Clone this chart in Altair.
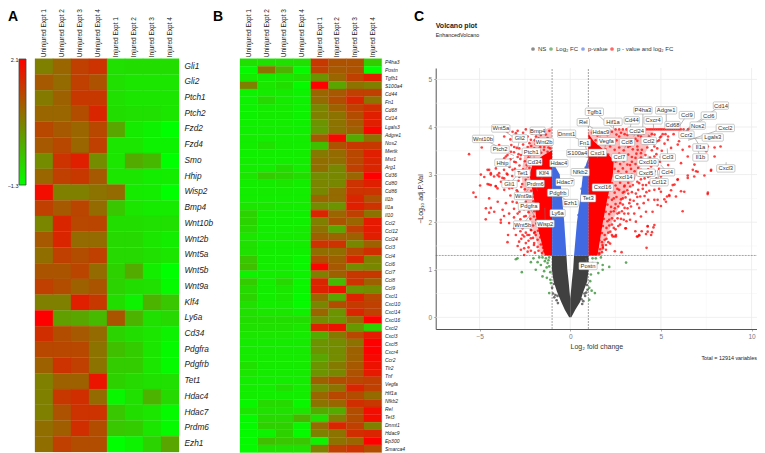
import altair as alt
import pandas as pd

FONT = "Liberation Sans"
W, H = 749, 445

# ---- Heatmap values read as position along the colour bar (0 = bottom, 1 = top)
LOW, HIGH = -1.3, 2.1
columns = ["Uninjured Expt 1", "Uninjured Expt 2", "Uninjured Expt 3", "Uninjured Expt 4",
           "Injured Expt 1", "Injured Expt 2", "Injured Expt 3", "Injured Expt 4"]
genes_a = ["Gli1", "Gli2", "Ptch1", "Ptch2", "Fzd2", "Fzd4", "Smo", "Hhip", "Wisp2", "Bmp4", "Wnt10b",
           "Wnt2b", "Wnt5a", "Wnt5b", "Wnt9a", "Klf4", "Ly6a", "Cd34", "Pdgfra", "Pdgfrb", "Tet1",
           "Hdac4", "Hdac7", "Prdm6", "Ezh1"]
heat_a = [
    [.50, .60, .75, .80, .12, .13, .13, .13], [.65, .58, .75, .68, .12, .10, .10, .10],
    [.52, .62, .78, .78, .12, .10, .10, .10], [.60, .60, .70, .85, .13, .12, .12, .10],
    [.72, .65, .60, .72, .35, .08, .05, .00], [.65, .72, .60, .75, .10, .10, .05, .05],
    [.45, .80, .88, .45, .10, .33, .28, .00], [.60, .75, .78, .65, .10, .10, .07, .07],
    [.95, .50, .50, .55, .58, .08, .07, .00], [.75, .65, .73, .58, .22, .10, .08, .08],
    [.48, .85, .72, .73, .13, .13, .12, .12], [.65, .85, .58, .58, .15, .15, .10, .07],
    [.57, .75, .70, .75, .15, .15, .12, .10], [.67, .67, .73, .58, .18, .33, .07, .00],
    [.75, .70, .62, .67, .17, .13, .12, .02], [.50, .50, .88, .78, .13, .05, .30, .22],
    [1.0, .38, .35, .27, .67, .30, .12, .15], [.82, .70, .65, .58, .17, .13, .10, .05],
    [.72, .72, .72, .55, .25, .20, .10, .02], [.62, .80, .75, .55, .20, .20, .10, .02],
    [.50, .62, .62, .92, .18, .15, .12, .12], [.50, .78, .82, .58, .03, .12, .30, .15],
    [.50, .68, .80, .80, .22, .13, .10, .02], [.57, .63, .82, .70, .22, .20, .10, .02],
    [.57, .75, .70, .70, .00, .05, .17, .35],
]
genes_b = ["P4ha3", "Postn", "Tgfb1", "S100a4", "Cd44", "Fn1", "Cd68", "Cd14", "Lgals3", "Adgre1", "Nos2",
           "Mertk", "Msr1", "Arg1", "Cd36", "Cd80", "Cd86", "Il1b", "Il1a", "Il10", "Ccl2", "Ccl12",
           "Ccl24", "Ccl3", "Ccl4", "Ccl6", "Ccl7", "Ccl8", "Ccl9", "Cxcl1", "Cxcl10", "Cxcl14", "Cxcl16",
           "Cxcl2", "Cxcl3", "Cxcl5", "Cxcr4", "Ccr2", "Tlr2", "Tnf", "Vegfa", "Hif1a", "Nfkb2", "Rel",
           "Tet3", "Dnmt1", "Hdac9", "Ep300", "Smarca4"]
heat_b = [
    [.12, .12, .12, .12, .78, .68, .68, .20], [.02, .55, .30, .02, .75, .65, .68, .00],
    [.08, .08, .10, .12, .42, .60, .75, .88], [.50, .10, .13, .02, 1.0, .35, .55, .50],
    [.05, .08, .08, .05, .60, .65, .75, .75], [.05, .15, .08, .05, .58, .70, .85, .55],
    [.05, .08, .08, .05, .48, .62, .75, .82], [.05, .08, .08, .05, .50, .55, .70, .88],
    [.06, .07, .07, .06, .42, .55, .65, .88], [.06, .07, .07, .06, .40, .55, .62, .98],
    [.07, .07, .07, .07, .65, .97, .33, .55], [.07, .12, .08, .07, .25, .68, .78, .78],
    [.06, .07, .07, .07, .52, .58, .72, .88], [.07, .07, .07, .07, .57, .57, .72, .85],
    [.07, .07, .13, .07, .57, .47, .75, .85], [.10, .20, .17, .13, .45, .47, .60, 1.0],
    [.07, .08, .10, .07, .48, .47, .80, .88], [.07, .08, .08, .07, .47, .58, .80, .80],
    [.07, .07, .07, .07, .60, .58, .85, .68], [.10, .10, .08, .07, .45, .42, .88, .80],
    [.17, .07, .07, .06, .85, .60, .75, .55], [.17, .07, .07, .06, .50, .67, .60, .90],
    [.15, .07, .07, .08, .55, .35, .75, .90], [.10, .07, .08, .08, .62, .60, .62, .88],
    [.12, .07, .07, .07, .80, .80, .47, .62], [.12, .07, .07, .06, .57, .57, .72, .82],
    [.22, .07, .07, .04, .70, .62, .85, .50], [.25, .07, .07, .04, .98, .65, .45, .47],
    [.05, .07, .08, .05, .50, .62, .78, .78], [.20, .07, .15, .04, .85, .27, .80, .62],
    [.15, .07, .10, .04, .87, .92, .42, .45], [.17, .07, .10, .02, .60, .35, .87, .72],
    [.12, .07, .08, .02, .47, .70, .77, .75], [.12, .10, .10, .06, .60, .42, .85, .75],
    [.13, .13, .13, .13, .45, .42, .58, 1.0], [.12, .12, .12, .10, .87, .93, .40, .18],
    [.10, .10, .10, .08, .33, .52, .72, .90], [.08, .08, .08, .08, .42, .45, .55, 1.0],
    [.08, .08, .08, .08, .42, .45, .62, 1.0], [.08, .08, .08, .08, .35, .45, .62, .97],
    [.12, .08, .08, .08, .42, .52, .65, .93], [.10, .08, .08, .08, .42, .47, .68, .90],
    [.07, .07, .07, .07, .62, .70, .72, .75], [.07, .07, .12, .07, .45, .55, .85, .75],
    [.07, .07, .07, .07, .60, .72, .70, .58], [.03, .15, .15, .03, .55, .60, .82, .78],
    [.10, .12, .12, .10, .33, .33, .70, .95], [.02, .15, .15, .30, .12, .50, .70, .95],
    [.02, .18, .18, .04, .58, .85, .75, .50], [.02, .05, .18, .02, .50, .55, .82, .85],
    [.02, .25, .22, .22, .05, .55, .60, 1.0], [.02, .12, .12, .12, .50, .75, .80, .70],
]

# ---- Volcano: dense bands, as boundaries (y, inner/outer log2 FC)
grey_y = [0.0, 0.16, 0.33, 0.39, 0.55, 0.76, 1.0, 1.3]
grey_left = [-0.06, -0.3, -0.5, -0.57, -0.74, -0.92, -1.01, -1.01]
grey_left_in = [0.0, 0.0, 0.0, 0.0, -0.04, -0.09, -0.16, -0.21]
grey_right = [0.06, 0.28, 0.55, 0.6, 0.73, 0.94, 1.01, 1.01]
grey_right_in = [0.0, 0.0, 0.0, 0.0, 0.04, 0.09, 0.16, 0.21]
blue_y_l = [1.3, 2.0, 2.5, 3.0, 3.15, 3.25]
blue_l_in = [-0.21, -0.33, -0.45, -0.58, -0.8, -0.97]
blue_y_r = [1.3, 2.0, 2.5, 3.0, 3.25, 3.32]
blue_r_in = [0.21, 0.37, 0.55, 0.7, 0.9, 0.98]
red_y_l = [1.3, 1.6, 2.0, 2.5, 3.0, 3.25, 3.4, 3.5]
red_l = [-1.4, -1.6, -1.85, -2.0, -2.25, -2.05, -1.5, -1.05]
red_y_r = [1.3, 2.0, 2.5, 3.0, 3.3, 3.5, 3.7, 3.85]
red_r = [1.5, 1.8, 2.05, 2.35, 2.4, 1.9, 1.3, 1.02]
pink_y_l = [1.3, 2.0, 2.5, 3.0, 3.5, 3.9, 4.0]
pink_l = [-1.6, -2.2, -2.5, -2.7, -2.5, -1.7, -1.05]
pink_y_r = [1.3, 2.0, 2.5, 3.0, 3.5, 3.9, 3.95]
pink_r = [1.7, 2.3, 2.9, 3.7, 4.2, 4.6, 2.6]

red_points = [
    (7.58, 2.59), (6.2, 2.23), (4.21, 1.46), (2.83, 1.37), (2.46, 1.39), (5.83, 2.54), (6.29, 2.64), (5.28, 2.43),
    (5.0, 2.64), (5.46, 2.57), (5.56, 2.67), (5.92, 2.89), (5.65, 2.78), (4.64, 2.47), (4.82, 2.36), (5.0, 2.34),
    (4.54, 2.22), (4.18, 2.22), (4.05, 2.4), (3.86, 2.54), (3.62, 2.6), (3.9, 2.12), (3.53, 2.18), (3.62, 2.01),
    (3.07, 1.87), (3.59, 1.81), (3.94, 1.81), (4.27, 1.92), (4.64, 1.94), (4.51, 1.79), (4.27, 1.8), (3.81, 1.72),
    (3.68, 1.7), (2.52, 1.73), (2.43, 1.7), (2.21, 1.8), (1.97, 1.52), (1.97, 1.42), (1.78, 1.52), (3.16, 2.29),
    (3.26, 2.4), (2.76, 2.4), (2.46, 2.29), (2.24, 2.22), (2.98, 2.18), (2.61, 2.08), (2.15, 2.05), (3.31, 2.75),
    (2.98, 2.64), (3.9, 2.9), (4.18, 2.78), (5.0, 2.96), (4.36, 2.66), (4.64, 2.68), (5.19, 2.48), (5.34, 2.54),
    (6.84, 2.96), (6.48, 2.98), (7.4, 2.98), (7.03, 3.06), (7.76, 3.08), (2.98, 2.75),
    (8.29, 3.59), (7.96, 3.57), (7.59, 3.59), (7.5, 3.49), (7.31, 3.38), (7.96, 3.38), (6.85, 3.21), (6.94, 3.07),
    (7.59, 2.62), (7.77, 3.1), (6.76, 3.1), (6.48, 2.93), (6.11, 3.24), (6.48, 3.38), (5.93, 3.63), (6.2, 3.52),
    (6.57, 3.59), (5.56, 3.03), (5.75, 2.79), (5.93, 2.9), (6.11, 2.65), (5.47, 2.55), (4.82, 2.47), (5.19, 3.38),
    (4.64, 3.59), (5.01, 3.8), (5.38, 3.73), (5.56, 3.56), (4.46, 3.17), (3.72, 3.52), (3.35, 3.73), (3.9, 3.45),
    (4.64, 3.38), (2.4, 3.7), (2.7, 3.8), (3.0, 3.85), (3.3, 3.6), (3.6, 3.75), (3.9, 3.8), (4.2, 3.7), (4.5, 3.85),
    (4.8, 3.7), (5.1, 3.85), (5.4, 3.8), (5.7, 3.85), (6.0, 3.7), (6.3, 3.8), (3.0, 3.4), (3.3, 3.2), (3.6, 3.35),
    (3.9, 3.1), (4.2, 3.25), (4.5, 3.0), (4.8, 3.2), (5.1, 3.05), (5.4, 3.2), (2.8, 3.0), (3.1, 2.9), (3.4, 3.0),
    (3.7, 2.85), (4.0, 2.7), (4.3, 2.95), (4.6, 2.85), (4.9, 2.7), (5.2, 2.8), (2.6, 2.7), (2.9, 2.5), (3.2, 2.6),
    (3.5, 2.45), (3.8, 2.3), (4.1, 2.55), (2.4, 2.5), (2.7, 2.2), (3.0, 2.3), (3.3, 2.05), (2.3, 1.95), (2.5, 1.85),
    (2.75, 1.95), (2.95, 2.05), (2.0, 1.65), (2.2, 1.55), (1.8, 1.45), (1.6, 1.35), (3.72, 1.7), (3.8, 1.73),
    (4.18, 1.75), (4.46, 1.73), (4.59, 1.89), (4.27, 1.91), (3.04, 1.87), (2.52, 1.7), (2.34, 1.7),
    (-5.58, 3.43), (-4.88, 3.57), (-4.97, 2.77), (-5.34, 2.62), (-5.21, 2.53), (-4.47, 2.79), (-4.11, 2.76),
    (-4.38, 2.3), (-4.47, 2.2), (-4.66, 2.06), (-3.83, 1.99), (-3.65, 2.13), (-3.92, 3.03), (-4.2, 2.96),
    (-4.47, 3.1), (-3.74, 2.93), (-3.55, 3.38), (-3.65, 3.1), (-3.43, 1.73), (-3.46, 1.58), (-2.82, 1.59),
    (-2.63, 1.73), (-2.54, 1.45), (-2.45, 1.56), (-2.17, 1.4), (-2.72, 1.42), (-1.99, 1.56), (-1.9, 1.73),
    (-2.36, 1.73), (-2.17, 1.66), (-2.54, 1.31), (-3.46, 3.9), (-3.18, 3.9), (-3.0, 3.87), (-3.64, 3.8),
    (-3.92, 3.62), (-3.09, 3.58), (-2.81, 3.55), (-2.35, 3.8), (-2.17, 3.73), (-1.89, 3.8), (-1.62, 3.83),
    (-1.43, 3.58), (-1.71, 3.5), (-1.98, 3.55), (-3.27, 3.48), (-3.46, 3.41), (-3.64, 3.34), (-4.1, 3.13),
    (-4.56, 3.1), (-4.93, 3.0), (-4.74, 2.95), (-4.38, 3.0), (-4.01, 2.99), (-3.82, 2.85), (-3.46, 3.0),
    (-3.09, 3.27), (-3.18, 3.1), (-2.9, 3.37), (-2.81, 2.95), (-3.64, 2.92), (-4.38, 2.78), (-4.01, 2.71),
    (-3.36, 2.71), (-2.72, 3.41), (-2.35, 3.58), (-4.38, 3.03), (-3.92, 2.96), (-4.56, 2.8), (-4.1, 2.75),
    (-3.64, 2.68), (-4.47, 2.5), (-4.0, 2.43), (-3.55, 2.4), (-3.18, 2.43), (-4.65, 2.29), (-4.19, 2.22),
    (-3.73, 2.26), (-3.37, 2.18), (-2.9, 2.18), (-2.54, 2.12), (-3.83, 2.05), (-3.37, 1.98), (-3.09, 1.87),
    (-2.63, 1.87), (-2.35, 1.94), (-2.17, 1.84), (-3.0, 1.73), (-2.54, 1.7), (-2.26, 1.73), (-1.99, 1.77),
    (-2.72, 2.33), (-2.9, 2.64), (-2.35, 2.5),
]
# denser scatter next to the solid bands
red_points_left_fringe = [
    (-2.9, 3.92), (-2.6, 3.88), (-2.45, 3.95), (-2.1, 3.86), (-1.85, 3.93), (-1.6, 3.9), (-1.35, 3.84), (-1.15, 3.92),
    (-3.3, 3.74), (-2.75, 3.78), (-2.5, 3.71), (-2.25, 3.66), (-1.95, 3.72), (-1.75, 3.76), (-1.5, 3.69), (-1.25, 3.77),
    (-1.08, 3.7), (-3.25, 3.62), (-2.95, 3.56), (-2.6, 3.63), (-2.4, 3.52), (-2.15, 3.6), (-1.9, 3.64), (-1.65, 3.58),
    (-1.4, 3.66), (-1.2, 3.57), (-3.1, 3.47), (-2.85, 3.43), (-2.55, 3.5), (-2.3, 3.41), (-2.1, 3.47), (-1.85, 3.44),
    (-1.6, 3.46), (-1.45, 3.52), (-1.25, 3.48), (-1.1, 3.55), (-3.3, 3.32), (-3.0, 3.26), (-2.75, 3.33), (-2.5, 3.28),
    (-2.3, 3.36), (-2.15, 3.3), (-3.35, 3.16), (-3.05, 3.12), (-2.8, 3.19), (-2.6, 3.11), (-2.4, 3.2), (-2.25, 3.14),
    (-3.5, 3.02), (-3.2, 2.97), (-2.95, 3.04), (-2.7, 2.99), (-2.5, 3.06), (-2.32, 2.96), (-3.4, 2.86), (-3.1, 2.82),
    (-2.85, 2.87), (-2.65, 2.8), (-2.45, 2.89), (-2.27, 2.83), (-3.2, 2.72), (-2.95, 2.67), (-2.7, 2.74), (-2.5, 2.69),
    (-2.3, 2.75), (-2.15, 2.66), (-3.3, 2.56), (-3.0, 2.52), (-2.75, 2.58), (-2.5, 2.51), (-2.25, 2.6), (-2.08, 2.53),
    (-2.95, 2.41), (-2.65, 2.36), (-2.45, 2.43), (-2.2, 2.38), (-2.03, 2.44), (-3.1, 2.28), (-2.8, 2.22), (-2.55, 2.27),
    (-2.3, 2.21), (-2.1, 2.29), (-1.98, 2.23), (-3.1, 2.1), (-2.75, 2.06), (-2.45, 2.13), (-2.2, 2.07), (-2.0, 2.12),
    (-1.88, 2.05), (-2.9, 1.96), (-2.55, 1.92), (-2.25, 1.98), (-2.05, 1.93), (-1.87, 1.97), (-2.75, 1.81), (-2.45, 1.78),
    (-2.15, 1.83), (-1.95, 1.79), (-1.78, 1.82), (-1.65, 1.77), (-2.7, 1.65), (-2.3, 1.61), (-2.05, 1.67), (-1.8, 1.63),
    (-1.65, 1.68), (-2.9, 1.5), (-2.3, 1.47), (-2.0, 1.52), (-1.8, 1.48), (-1.62, 1.53), (-1.5, 1.46), (-2.35, 1.38),
    (-1.95, 1.36), (-1.75, 1.4), (-1.55, 1.35), (-1.45, 1.39),
]
red_points_right_fringe = [
    (1.2, 3.88), (1.5, 3.82), (1.8, 3.86), (2.05, 3.83), (2.3, 3.9), (2.55, 3.84), (2.8, 3.88), (3.15, 3.83), (3.45, 3.87),
    (3.75, 3.82), (4.05, 3.86), (4.35, 3.8), (4.65, 3.84), (4.95, 3.78), (5.25, 3.85), (1.4, 3.72), (1.7, 3.68), (2.0, 3.74),
    (2.25, 3.67), (2.55, 3.72), (2.85, 3.69), (3.1, 3.74), (3.4, 3.66), (3.7, 3.71), (4.0, 3.67), (4.3, 3.73), (4.6, 3.66),
    (4.9, 3.72), (5.2, 3.65), (1.5, 3.57), (1.95, 3.53), (2.2, 3.59), (2.45, 3.52), (2.7, 3.57), (2.95, 3.51), (3.2, 3.58),
    (3.45, 3.53), (3.7, 3.59), (3.95, 3.52), (4.25, 3.57), (4.5, 3.51), (4.8, 3.55), (5.05, 3.5), (2.1, 3.42), (2.45, 3.37),
    (2.7, 3.44), (2.95, 3.36), (3.2, 3.42), (3.4, 3.37), (3.65, 3.44), (3.9, 3.36), (4.15, 3.41), (4.4, 3.36), (4.75, 3.43),
    (5.0, 3.37), (2.5, 3.27), (2.75, 3.22), (2.95, 3.28), (3.15, 3.21), (3.4, 3.27), (3.6, 3.22), (3.85, 3.28), (4.05, 3.21),
    (4.35, 3.26), (4.6, 3.22), (4.95, 3.27), (2.45, 3.12), (2.65, 3.07), (2.9, 3.13), (3.1, 3.06), (3.35, 3.12), (3.55, 3.07),
    (3.75, 3.14), (4.05, 3.06), (4.3, 3.11), (4.65, 3.07), (4.9, 3.12), (2.4, 2.97), (2.6, 2.92), (2.85, 2.98), (3.05, 2.91),
    (3.25, 2.97), (3.5, 2.92), (3.8, 2.98), (4.1, 2.92), (4.4, 2.97), (4.75, 2.92), (2.3, 2.82), (2.5, 2.77), (2.75, 2.83),
    (3.0, 2.77), (3.2, 2.83), (3.45, 2.78), (3.8, 2.82), (4.0, 2.78), (4.35, 2.83), (2.2, 2.67), (2.45, 2.62), (2.7, 2.68),
    (2.9, 2.62), (3.15, 2.67), (3.4, 2.63), (3.75, 2.68), (4.2, 2.63), (2.1, 2.52), (2.3, 2.47), (2.55, 2.53), (2.8, 2.48),
    (3.05, 2.52), (3.3, 2.47), (3.7, 2.53), (4.3, 2.47), (2.05, 2.37), (2.25, 2.32), (2.5, 2.38), (2.65, 2.33), (2.9, 2.37),
    (3.35, 2.33), (3.7, 2.38), (1.95, 2.22), (2.15, 2.17), (2.4, 2.23), (2.6, 2.18), (2.85, 2.23), (3.2, 2.18), (1.85, 2.07),
    (2.05, 2.02), (2.3, 2.08), (2.45, 2.03), (2.8, 2.07), (3.1, 2.02), (1.8, 1.92), (2.0, 1.88), (2.15, 1.93), (2.4, 1.88),
    (2.65, 1.92), (1.75, 1.77), (1.9, 1.73), (2.1, 1.78), (2.3, 1.73), (1.6, 1.62), (1.75, 1.58), (1.9, 1.63), (2.1, 1.58),
    (1.5, 1.47), (1.65, 1.43), (1.8, 1.48), (1.45, 1.36), (1.6, 1.33), (1.75, 1.37),
]
red_band_x = [2.5, 2.7, 2.9, 3.1, 3.3, 3.5, 3.7, 3.9, 4.05, 4.2, 4.3, 4.4, 4.5, 4.6, 4.7, 4.8, 4.9, 5.0, 5.1,
              5.2, 5.3, 5.4, 5.5, 5.6, 5.7, 5.8, 5.9, 6.0, 6.1, 6.25, 6.5]
red_band_y = 3.95
green_points = [
    (-3.0, 1.22), (-2.91, 1.24), (-2.67, .95), (-2.17, 1.16), (-2.03, 1.24), (-1.9, 1.0), (-1.8, 1.16), (-1.62, 1.1),
    (-1.53, .86), (-1.44, .97), (-1.34, 1.24), (-1.25, 1.14), (-1.16, 1.07), (-1.16, .51), (-1.07, .72), (-1.29, .83),
    (-1.1, .79), (-1.71, 1.26), (-1.53, 1.26), (-1.16, 1.26), (-1.4, 1.18), (-1.2, 1.2), (-1.3, 1.05), (-1.1, .95),
    (1.23, 1.24), (1.41, 1.24), (1.69, 1.26), (1.51, 1.14), (2.15, 1.06), (3.08, 1.15), (1.79, 1.1), (1.55, .93),
    (1.79, 1.0), (1.14, .9), (1.05, .62), (1.36, .51), (1.18, .56), (1.05, .37), (1.23, 1.14), (1.14, 1.07), (1.1, .76),
]
grey_points = [(-0.95, .5), (-.88, .42), (-1.0, .62), (-.75, .36), (-.68, .3), (.72, .34), (.82, .45), (.95, .58),
               (.88, .52), (.66, .28), (-.9, .7), (.92, .68), (-.82, .47), (-.7, .45), (.78, .5), (.62, .38)]
blue_points = [(-.4, 2.2), (-.55, 2.65), (.45, 2.15), (.62, 2.7), (-.9, 3.1), (.85, 3.15)]

# name, label x, label y, target x, target y
labels = [
    ("Tgfb1", 1.33, 4.32, 2.34, 3.98), ("Hif1a", 2.36, 4.11, 2.4, 3.95), ("P4ha3", 4.01, 4.35, 4.0, 3.98),
    ("Adgre1", 5.29, 4.35, 5.3, 4.05), ("Cd14", 8.31, 4.45, 6.4, 3.95), ("Ccl9", 6.43, 4.25, 5.9, 3.95),
    ("Ccl6", 7.64, 4.24, 6.3, 3.9), ("Cd44", 3.39, 4.14, 3.3, 3.97), ("Cxcr4", 4.57, 4.14, 4.6, 3.97),
    ("Cd68", 5.64, 4.04, 5.5, 3.95), ("Nos2", 7.03, 4.03, 6.0, 3.85), ("Cxcl2", 8.55, 3.98, 6.5, 3.72),
    ("Rel", 0.72, 4.10, 1.35, 3.95), ("Hdac9", 1.69, 3.90, 1.6, 3.7), ("Ccl24", 3.66, 3.92, 3.5, 3.8),
    ("Ccr2", 6.41, 3.84, 6.1, 3.85), ("Lgals3", 7.86, 3.78, 6.5, 3.75), ("Dnmt1", -0.20, 3.86, 1.0, 3.65),
    ("Fn1", 0.79, 3.67, 1.05, 3.3), ("Vegfa", 1.99, 3.70, 1.9, 3.55), ("Ccl8", 3.13, 3.68, 3.0, 3.55),
    ("Ccl2", 4.33, 3.71, 4.3, 3.85), ("Il1a", 7.18, 3.57, 6.9, 3.75), ("Cxcl1", 1.51, 3.46, 1.5, 3.35),
    ("S100a4", 0.39, 3.45, 1.0, 3.35), ("Il1b", 7.18, 3.36, 7.0, 3.55), ("Ccl3", 5.38, 3.36, 5.35, 3.55),
    ("Ccl7", 2.71, 3.36, 2.6, 3.25), ("Cxcl10", 4.27, 3.26, 4.3, 3.4), ("Cxcl3", 8.58, 3.13, 8.6, 3.26),
    ("Nfkb2", 0.55, 3.05, 1.0, 3.0), ("Cxcl5", 4.18, 3.04, 4.3, 2.95), ("Ccl4", 5.34, 3.05, 5.0, 3.2),
    ("Cxcl14", 2.95, 2.94, 2.6, 3.0), ("Ccl12", 4.90, 2.84, 4.8, 3.1), ("Cxcl16", 1.79, 2.73, 1.5, 2.8),
    ("Tet3", 0.99, 2.50, 0.95, 2.75), ("Wnt5a", -3.83, 3.97, -3.0, 3.75), ("Wnt10b", -4.81, 3.75, -3.8, 3.55),
    ("Bmp4", -1.80, 3.92, -1.9, 3.8), ("Gli2", -2.78, 3.76, -2.9, 3.55), ("Wnt2b", -1.44, 3.69, -1.8, 3.55),
    ("Ptch2", -3.87, 3.53, -3.1, 3.4), ("Ptch1", -2.15, 3.48, -2.2, 3.35), ("Hhip", -3.74, 3.25, -3.1, 3.35),
    ("Cd34", -1.97, 3.27, -2.0, 3.4), ("Hdac4", -0.63, 3.24, -1.0, 3.1), ("Tet1", -2.63, 3.03, -2.3, 3.2),
    ("Klf4", -1.45, 3.03, -1.6, 2.9), ("Gli1", -3.35, 2.80, -2.9, 3.0), ("Prdm6", -1.93, 2.81, -1.8, 2.65),
    ("Hdac7", -0.29, 2.84, -0.75, 2.95), ("Pdgfrb", -0.68, 2.62, -0.85, 2.45), ("Wnt9a", -2.58, 2.55, -2.3, 2.7),
    ("Ezh1", 0.02, 2.40, -0.55, 2.55), ("Pdgfra", -2.28, 2.33, -2.0, 2.15), ("Ly6a", -0.70, 2.19, -1.0, 2.0),
    ("Wnt5b", -2.62, 1.95, -2.2, 2.15), ("Wisp2", -1.38, 1.97, -1.4, 2.3), ("Postn", 0.98, 1.08, 0.85, 1.25),
]
major_x = [-5, 0, 5, 10]
minor_x = [-2.5, 2.5, 7.5]
major_y = [0, 1, 2, 3, 4, 5]
minor_y = [0.5, 1.5, 2.5, 3.5, 4.5]
x_limits = (-7.42, 10.3)
y_limits = (-0.245, 5.24)

# ---- helpers
def heat_long(rows, names):
    return pd.DataFrame([{"row": names[i], "col": columns[j], "v": LOW + (HIGH - LOW) * rows[i][j]}
                         for i in range(len(rows)) for j in range(8)])

def color_scale():
    return alt.Scale(domain=[LOW, HIGH], range=["#00ff00", "#ff0000"], interpolate="rgb")

def heat(rows, names, x0, x1, y0, y1, axis_y=None):
    cols_axis = alt.Axis(orient="top", offset=-(y0), labelAngle=270, labelAlign="left", labelBaseline="middle",
                         domain=False, ticks=False, title=None, labelPadding=2, labelFontSize=6.5, labelFont=FONT,
                         labelColor="#222222", labelOverlap=False, labelLimit=100, grid=False)
    return alt.Chart(heat_long(rows, names)).mark_rect(strokeWidth=0.3).encode(
        x=alt.X("col:N", sort=columns, axis=cols_axis,
                scale=alt.Scale(type="band", domain=columns, range=[x0, x1], paddingInner=0, paddingOuter=0)),
        y=alt.Y("row:N", sort=names, axis=axis_y, title=None,
                scale=alt.Scale(type="band", domain=names, range=[y0, y1], paddingInner=0, paddingOuter=0)),
        color=alt.Color("v:Q", scale=color_scale(), legend=None),
        stroke=alt.Stroke("v:Q", scale=color_scale(), legend=None),
    )

def text(s, x, y, size, bold=False, align="left", color="#222222"):
    return alt.Chart(alt.Data(values=[{}])).mark_text(
        text=s, fontSize=size, font=FONT, fontWeight="bold" if bold else "normal", align=align,
        baseline="middle", color=color).encode(x=alt.value(x), y=alt.value(y))

# volcano scales (pixel range of the plot area inside the chart)
VX0, VX1, VY0, VY1 = 427.7, 749.0, 321.0, 60.0
def vscale_x():
    return alt.Scale(domain=list(x_limits), range=[VX0, VX1], nice=False, zero=False)
def vscale_y():
    return alt.Scale(domain=list(y_limits), range=[VY0, VY1], nice=False, zero=False)
def vx(f="x", axis=None):
    return alt.X(f"{f}:Q", scale=vscale_x(), axis=axis, title=None)
def vy(f="y", axis=None):
    return alt.Y(f"{f}:Q", scale=vscale_y(), axis=axis, title=None)

def band(ys, outer, inner, color, opacity=1.0):
    df = pd.DataFrame({"y": ys, "x": outer, "x2": inner})
    return alt.Chart(df).mark_area(orient="horizontal", color=color, opacity=opacity).encode(
        y=vy(), x=vx(), x2=alt.X2("x2:Q"))

layers = []

# colour bar
bar_df = pd.DataFrame({"y": [LOW], "y2": [HIGH]})
layers.append(alt.Chart(bar_df).mark_rect(
    stroke="#444444", strokeWidth=0.8,
    color=alt.Gradient(gradient="linear", x1=0, x2=0, y1=1, y2=0,
                       stops=[alt.GradientStop(color="#00ff00", offset=0),
                              alt.GradientStop(color="#ff0000", offset=1)])
).encode(
    x=alt.value(11), x2=alt.value(18),
    y=alt.Y("y:Q", title=None, scale=alt.Scale(domain=[LOW, HIGH], range=[177, 51], nice=False, zero=False),
            axis=alt.Axis(orient="left", offset=-11, values=[LOW, HIGH], format=".1f", domain=False, ticks=False,
                          labelFontSize=5.5, labelFont=FONT, labelColor="#222222", labelPadding=1, grid=False,
                          title=None)),
    y2=alt.Y2("y2:Q"),
))

# heat maps
layers.append(heat(heat_a, genes_a, 27, 171, 50.7, 444,
                   axis_y=alt.Axis(orient="right", offset=-(W - 171), domain=False, ticks=False, title=None,
                                   labelPadding=5, labelFontSize=8.3, labelFont=FONT, labelFontStyle="italic",
                                   labelColor="#222222", labelOverlap=False, grid=False)))
rows_b = [f"r{i}" for i in range(len(heat_b))]
layers.append(heat(heat_b, rows_b, 232, 373.7, 50.7, 444.5))
gene_b_df = pd.DataFrame({"g": genes_b})
layers.append(alt.Chart(gene_b_df).mark_text(fontSize=5, font=FONT, fontStyle="italic", align="left",
                                             baseline="middle", color="#222222").encode(
    x=alt.value(377),
    y=alt.Y("g:N", sort=genes_b, axis=None, title=None,
            scale=alt.Scale(type="band", domain=genes_b, range=[50, 445], paddingInner=0, paddingOuter=0)),
    text="g:N"))

# volcano grid with the real axes on the first layer
grid_x = pd.DataFrame({"x": minor_x, "y": [y_limits[0]] * 3, "y2": [y_limits[1]] * 3})
grid_y = pd.DataFrame({"y": minor_y, "x": [x_limits[0]] * 5, "x2": [x_limits[1]] * 5})
layers.append(alt.Chart(grid_x).mark_rule(color="#f3f3f3", strokeWidth=0.5).encode(
    x=vx(), y=vy(), y2=alt.Y2("y2:Q")))
layers.append(alt.Chart(grid_y).mark_rule(color="#f3f3f3", strokeWidth=0.5).encode(
    y=vy(), x=vx(), x2=alt.X2("x2:Q")))
major_df_x = pd.DataFrame({"x": major_x, "y": [y_limits[0]] * 4, "y2": [y_limits[1]] * 4})
major_df_y = pd.DataFrame({"y": major_y, "x": [x_limits[0]] * 6, "x2": [x_limits[1]] * 6})
axis_common = dict(labelFont=FONT, labelColor="#777777", labelFontSize=6.5, titleFont=FONT, titleColor="#333333",
                   titleFontWeight="normal", titleFontSize=7, domainColor="#555555", domainWidth=1,
                   tickColor="#777777", tickSize=2, tickWidth=0.6, grid=False)
layers.append(alt.Chart(major_df_x).mark_rule(color="#ebebeb", strokeWidth=0.8).encode(
    x=alt.X("x:Q", scale=vscale_x(), title="Log₂ fold change",
            axis=alt.Axis(orient="bottom", offset=VY0 - H, values=major_x, titlePadding=3, **axis_common)),
    y=vy(), y2=alt.Y2("y2:Q")))
layers.append(alt.Chart(major_df_y).mark_rule(color="#ebebeb", strokeWidth=0.8).encode(
    y=alt.Y("y:Q", scale=vscale_y(), title="−Log₁₀ adj.P.Val",
            axis=alt.Axis(orient="left", offset=-VX0, values=major_y, titlePadding=5, **axis_common)),
    x=vx(), x2=alt.X2("x2:Q")))

# threshold lines
th_v = pd.DataFrame({"x": [-1, 1], "y": [y_limits[0]] * 2, "y2": [y_limits[1]] * 2})
th_h = pd.DataFrame({"y": [1.3], "x": [x_limits[0]], "x2": [x_limits[1]]})
layers.append(alt.Chart(th_v).mark_rule(color="#666666", strokeWidth=0.6, strokeDash=[2, 1]).encode(
    x=vx(), y=vy(), y2=alt.Y2("y2:Q")))
layers.append(alt.Chart(th_h).mark_rule(color="#666666", strokeWidth=0.6, strokeDash=[2, 1]).encode(
    y=vy(), x=vx(), x2=alt.X2("x2:Q")))

# dense regions
GREY, BLUE, RED = "#404040", "#4169e1", "#ff0000"
layers += [
    band(pink_y_l, pink_l, [-1.0] * len(pink_y_l), RED, 0.25),
    band(pink_y_r, pink_r, [1.0] * len(pink_y_r), RED, 0.25),
    band(red_y_l, red_l, [-1.0] * len(red_y_l), RED),
    band(red_y_r, red_r, [1.0] * len(red_y_r), RED),
    band(grey_y, grey_left, grey_left_in, GREY),
    band(grey_y, grey_right, grey_right_in, GREY),
    band(blue_y_l, [-1.0] * len(blue_y_l), blue_l_in, BLUE),
    band(blue_y_r, [1.0] * len(blue_y_r), blue_r_in, BLUE),
]

# individual points, with the real legend
RK = "p - value and log₂ FC"
pts = ([{"x": a, "y": b, "k": RK} for a, b in red_points + red_points_left_fringe + red_points_right_fringe] +
       [{"x": a, "y": red_band_y, "k": RK} for a in red_band_x] +
       [{"x": a, "y": b, "k": "Log₂ FC"} for a, b in green_points] +
       [{"x": a, "y": b, "k": "NS"} for a, b in grey_points] +
       [{"x": a, "y": b, "k": "p-value"} for a, b in blue_points])
layers.append(alt.Chart(pd.DataFrame(pts)).mark_circle(size=7, opacity=0.75).encode(
    x=vx(), y=vy(),
    color=alt.Color("k:N", scale=alt.Scale(domain=["NS", "Log₂ FC", "p-value", RK],
                                           range=["#404040", "#2e8b2e", "#4169e1", "#ff0000"]),
                    legend=alt.Legend(orient="none", legendX=522, legendY=38, direction="horizontal", columns=4,
                                      title=None, labelFont=FONT, labelFontSize=6, labelColor="#333333",
                                      symbolSize=14, symbolType="circle", symbolOpacity=0.6, columnPadding=1,
                                      labelOffset=2, symbolStrokeWidth=0, labelLimit=120))))

# labelled genes
lab = pd.DataFrame(labels, columns=["name", "x", "y", "tx", "ty"])
lab["hw"] = (lab["name"].str.len() * 2.95 + 3.5) / 2 / 18.13
lab["bx0"] = lab["x"] - lab["hw"]
lab["bx1"] = lab["x"] + lab["hw"]
lab["by0"] = lab["y"] - 0.078
lab["by1"] = lab["y"] + 0.078
layers.append(alt.Chart(lab).mark_rule(color="#777777", strokeWidth=0.5).encode(
    x=vx(), y=vy(), x2=alt.X2("tx:Q"), y2=alt.Y2("ty:Q")))
layers.append(alt.Chart(lab).mark_rect(fill="white", stroke="#999999", strokeWidth=0.5, cornerRadius=1).encode(
    x=vx("bx0"), x2=alt.X2("bx1:Q"), y=vy("by0"), y2=alt.Y2("by1:Q")))
layers.append(alt.Chart(lab).mark_text(fontSize=5.8, font=FONT, color="#333333", baseline="middle").encode(
    x=vx(), y=vy(), text="name:N"))

# panel letters and captions
layers += [
    text("A", 0, 9, 14, bold=True, color="#000000"),
    text("B", 205, 9, 14, bold=True, color="#000000"),
    text("C", 406, 9, 14, bold=True, color="#000000"),
    text("Volcano plot", 427.7, 18, 7, bold=True),
    text("EnhancedVolcano", 427.7, 27, 5.4),
    text("Total = 12914 variables", 749, 349.7, 5.4, align="right"),
]

chart = alt.layer(*layers).resolve_scale(x="independent", y="independent", color="independent",
                                         stroke="independent").properties(
    width=W, height=H, padding=0, autosize=alt.AutoSizeParams(type="none"),
).configure_view(stroke=None)

chart.save("out.html", embed_options={"renderer": "svg", "actions": False})
